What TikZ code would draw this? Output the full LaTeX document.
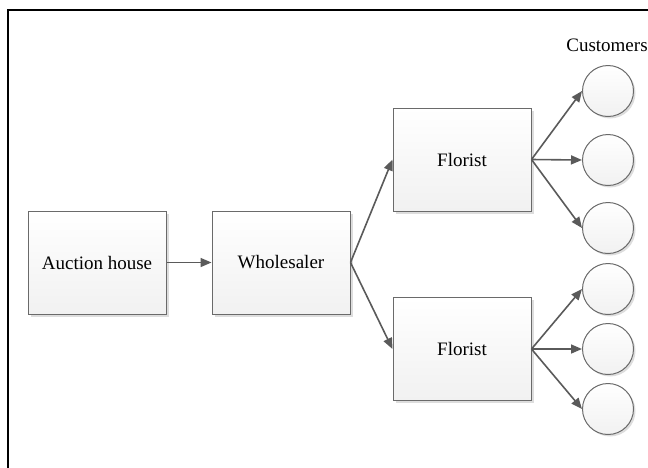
\documentclass[tikz,border=0pt]{standalone}
\usepackage{fontspec}
\setmainfont{Liberation Serif}
\usetikzlibrary{arrows.meta,shadows}
\definecolor{edgegray}{HTML}{6A6A6A}
\definecolor{linegray}{HTML}{5A5A5A}
\definecolor{fillbot}{HTML}{F1F1F1}
\begin{document}
\begin{tikzpicture}[x=1pt,y=-1pt,
  box/.style={draw=edgegray, line width=1pt, top color=white, bottom color=fillbot,
    minimum width=138pt, minimum height=103pt, inner sep=0pt, font=\fontsize{19}{22}\selectfont,
    drop shadow={shadow xshift=2.5pt, shadow yshift=-2.5pt, fill=black!22, opacity=0.6}},
  cust/.style={circle, draw=edgegray, line width=1pt, top color=white, bottom color=fillbot,
    minimum size=51pt, inner sep=0pt,
    drop shadow={shadow xshift=2pt, shadow yshift=-2pt, fill=black!22, opacity=0.6}},
  flow/.style={draw=linegray, line width=1.6pt, -{Triangle[length=11pt,width=9pt]}}]
\useasboundingbox (0,0) rectangle (648,467);
\draw[line width=2pt] (8,480) -- (8,10) -- (660,10);
\node[box] (auction) at (97,262.5) {Auction house};
\node[box] (whole) at (281,262.5) {Wholesaler};
\node[box] (flor1) at (462,159.5) {Florist};
\node[box] (flor2) at (462,349) {Florist};
\node[font=\fontsize{19}{22}\selectfont] (custlabel) at (607,45) {Customers};
\node[cust] (c1) at (608,91) {};
\node[cust] (c2) at (608,160) {};
\node[cust] (c3) at (608,228) {};
\node[cust] (c4) at (608,289) {};
\node[cust] (c5) at (608,349) {};
\node[cust] (c6) at (608,409) {};
\draw[flow] (auction.east) -- (whole.west);
\draw[flow] (whole.east) -- (flor1.west);
\draw[flow] (whole.east) -- (flor2.west);
\draw[flow] (flor1.east) -- (c1.west);
\draw[flow] (flor1.east) -- (c2.west);
\draw[flow] (flor1.east) -- (c3.west);
\draw[flow] (flor2.east) -- (c4.west);
\draw[flow] (flor2.east) -- (c5.west);
\draw[flow] (flor2.east) -- (c6.west);
\end{tikzpicture}
\end{document}
